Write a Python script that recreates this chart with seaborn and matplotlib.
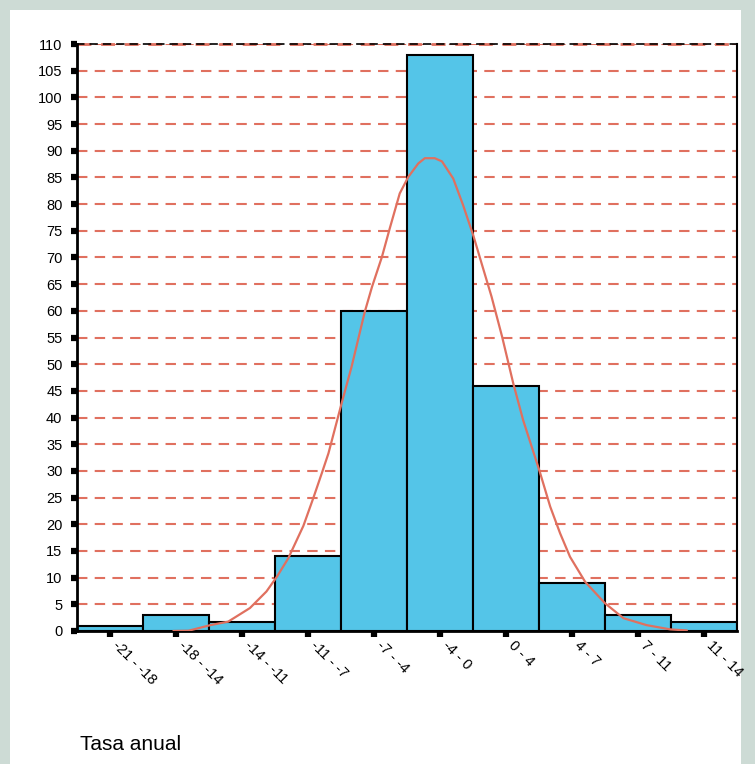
import numpy as np
import pandas as pd
import matplotlib.pyplot as plt
from matplotlib.patches import Rectangle
import seaborn as sns

sns.set_style("white")
plt.rcParams["font.family"] = ["Liberation Sans", "DejaVu Sans"]
plt.rcParams["text.color"] = "black"
plt.rcParams["xtick.color"] = "black"
plt.rcParams["ytick.color"] = "black"

# clases (intervalos de la tasa anual) y frecuencias
clases = ["-21 - -18", "-18 - -14", "-14 - -11", "-11 - -7", "-7 - -4",
          "-4 - 0", "0 - 4", "4 - 7", "7 - 11", "11 - 14"]
frecuencias = [1, 3, 1.7, 14, 60, 108, 46, 9, 3, 1.7]

# curva normal (x en unidades de clase, 0 = borde izquierdo)
curva_x = [1.46, 1.69, 2.02, 2.29, 2.62, 2.87, 3.03, 3.20, 3.43, 3.58, 3.71,
           3.81, 4.01, 4.16, 4.36, 4.47, 4.62, 4.74, 4.89, 5.02, 5.17, 5.27,
           5.42, 5.53, 5.70, 5.85, 6.01, 6.13, 6.28, 6.44, 6.61, 6.76, 7.01,
           7.17, 7.32, 7.47, 7.70, 8.00, 8.28, 8.63, 8.99, 9.24]
curva_y = [0, 0.05, 1.1, 1.75, 4.3, 7.4, 10.2, 13.6, 19.7, 24.9, 29.6,
           33.3, 42.7, 49.5, 59.8, 64.5, 70.1, 75.5, 82.0, 85.1, 87.6, 88.6,
           88.6, 88.0, 84.8, 79.8, 73.9, 68.9, 62.7, 55.2, 46.4, 39.5, 29.9,
           23.3, 18.3, 13.9, 9.2, 5.2, 2.4, 1.1, 0.3, 0.1]

yticks = list(range(0, 111, 5))

azul = "#54c5e8"
rojo = "#e0705f"
fondo = "#cddbd5"

fig = plt.figure(figsize=(7.55, 7.64), dpi=100, facecolor=fondo)
fig.patches.append(Rectangle((10/755, 0), 731/755, 1 - 10/764, transform=fig.transFigure,
                             facecolor="white", edgecolor="none", zorder=-10))
ax = fig.add_axes([77/755, 1 - 631/764, 660/755, 587/764])
ax.set_facecolor("white")

df = pd.DataFrame({"clase": clases, "frec": frecuencias})
sns.barplot(data=df, x="clase", y="frec", order=clases, color=azul, saturation=1,
            width=1, edgecolor="black", linewidth=1.5, ax=ax, zorder=2)

curva = pd.DataFrame({"x": np.array(curva_x) - 0.5, "y": curva_y})
sns.lineplot(data=curva, x="x", y="y", color=rojo, lw=1.6, ax=ax, zorder=3, sort=False)

ax.set_xlim(-0.5, 9.5)
ax.set_ylim(0, 110)
ax.set_yticks(yticks)
ax.set_yticklabels([str(v) for v in yticks], fontsize=10.5)
ax.set_xticks(range(len(clases)))
ax.set_xticklabels(clases, rotation=-45, ha="left", va="bottom",
                   rotation_mode="anchor", fontsize=10.5)

ax.yaxis.grid(True, color=rojo, linestyle=(0, (5, 3.5)), lw=1.5)
ax.xaxis.grid(False)
ax.set_axisbelow(True)
# linea roja del borde superior
ax.axhline(110, color=rojo, linestyle=(0, (5, 3.5)), lw=2, clip_on=False, zorder=2.4)

ax.tick_params(axis="both", direction="out", length=4.5, width=4.5, color="black",
               bottom=True, left=True)
ax.tick_params(axis="y", pad=6)
ax.tick_params(axis="x", pad=8)

for s in ["left", "bottom"]:
    ax.spines[s].set_color("black")
    ax.spines[s].set_linewidth(2)
ax.spines["right"].set_color("black")
ax.spines["right"].set_linewidth(1.5)
ax.spines["top"].set_color("black")
ax.spines["top"].set_linewidth(1.2)
ax.spines["top"].set_linestyle((0, (4, 4)))

ax.set_xlabel("")
ax.set_ylabel("")

fig.text(80/755, 1 - 750/764, "Tasa anual", fontsize=15, va="baseline", ha="left",
         color="black")

plt.savefig("out.png", dpi=100, facecolor=fondo)
